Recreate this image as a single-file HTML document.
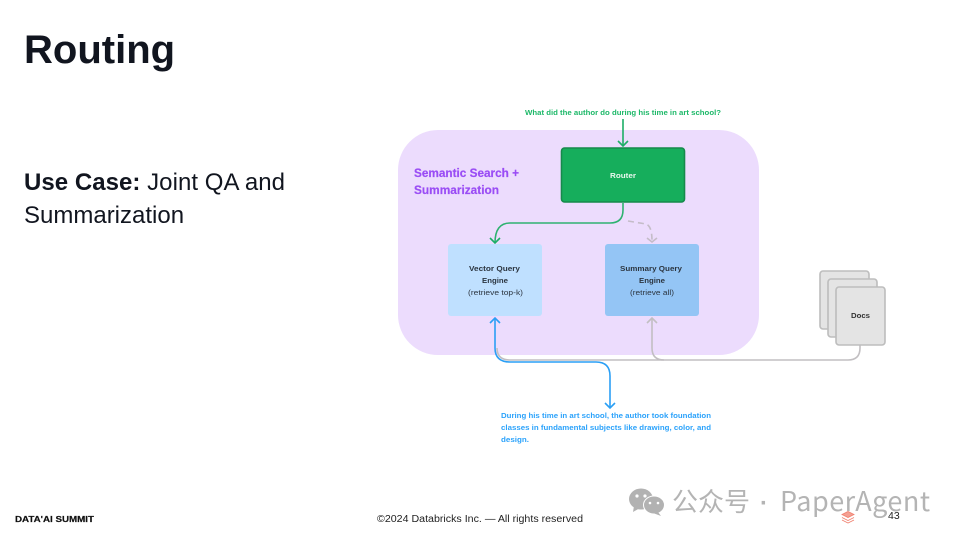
<!DOCTYPE html>
<html>
<head>
<meta charset="utf-8">
<style>
html,body{margin:0;padding:0;background:#fff}
body{width:960px;height:540px;overflow:hidden;position:relative}
svg{position:absolute;left:0;top:0}
text{font-family:"Liberation Sans","Noto Sans CJK SC",sans-serif}
</style>
</head>
<body>
<svg width="960" height="540" viewBox="0 0 960 540" xmlns="http://www.w3.org/2000/svg">
<defs><filter id="b" filterUnits="userSpaceOnUse" x="380" y="90" width="530" height="370"><feGaussianBlur stdDeviation="0.35"/></filter></defs>
<rect width="960" height="540" fill="#fff"/>
<text x="24" y="63" font-size="40" font-weight="700" fill="#11151f">Routing</text>
<text x="24" y="190" font-size="24" fill="#11151f" textLength="261" lengthAdjust="spacing"><tspan font-weight="700">Use Case:</tspan> Joint QA and</text>
<text x="24" y="223" font-size="24" fill="#11151f">Summarization</text>

<g filter="url(#b)">
<rect x="398" y="130" width="361" height="225" rx="40" fill="#ecdcfd"/>
<g font-size="11.5" font-weight="700" fill="#9a4df5" stroke="#9a4df5" stroke-width="0.2">
<text x="414" y="177" textLength="105" lengthAdjust="spacingAndGlyphs">Semantic Search +</text>
<text x="414" y="194" textLength="85" lengthAdjust="spacingAndGlyphs">Summarization</text>
</g>

<text x="525" y="115" font-size="7.6" font-weight="700" fill="#1cb868" textLength="196" lengthAdjust="spacingAndGlyphs">What did the author do during his time in art school?</text>

<path d="M623 119V146" fill="none" stroke="#1fae66" stroke-width="1.6"/>
<path d="M618 141L623 146L628 141" fill="none" stroke="#1fae66" stroke-width="1.6"/>
<rect x="561.5" y="148" width="123" height="54" rx="3" fill="#16ae5c" stroke="#128a4b" stroke-width="1.6"/>
<text x="610" y="178" font-size="7.6" font-weight="700" fill="#e9f8ef" textLength="26" lengthAdjust="spacingAndGlyphs">Router</text>

<path d="M623 203V210Q623 223 610 223H510Q495 223 495 243" fill="none" stroke="#2fb271" stroke-width="1.6"/>
<path d="M490 238L495 243L500 238" fill="none" stroke="#1fae66" stroke-width="1.6"/>
<path d="M628 221Q640 223 646 224Q652 226 652 241" fill="none" stroke="#c4bcc8" stroke-width="1.6" stroke-dasharray="6 4"/>
<path d="M647 238L652 242L657 238" fill="none" stroke="#c4bcc8" stroke-width="1.6"/>

<rect x="448" y="244" width="94" height="72" rx="3" fill="#bfe0ff"/>
<rect x="605" y="244" width="94" height="72" rx="3" fill="#94c5f5"/>
<g font-size="7.6" fill="#2c3540">
<text x="469" y="271" font-weight="700" textLength="51" lengthAdjust="spacingAndGlyphs">Vector Query</text>
<text x="482" y="283" font-weight="700" textLength="26" lengthAdjust="spacingAndGlyphs">Engine</text>
<text x="468" y="295" textLength="55" lengthAdjust="spacingAndGlyphs">(retrieve top-k)</text>
<text x="620" y="271" font-weight="700" textLength="62" lengthAdjust="spacingAndGlyphs">Summary Query</text>
<text x="639" y="283" font-weight="700" textLength="26" lengthAdjust="spacingAndGlyphs">Engine</text>
<text x="630" y="295" textLength="44" lengthAdjust="spacingAndGlyphs">(retrieve all)</text>
</g>

<path d="M860 345V348Q860 360 848 360H510Q497 360 497 348" fill="none" stroke="#c2bfc2" stroke-width="1.6"/>
<path d="M652 318V348Q652 360 664 360" fill="none" stroke="#c2bfc2" stroke-width="1.6"/>
<path d="M647 323L652 318L657 323" fill="none" stroke="#c2bfc2" stroke-width="1.6"/>

<path d="M495 318V348Q495 362 510 362H596Q610 362 610 376V408" fill="none" stroke="#2c9ff5" stroke-width="1.6"/>
<path d="M490 323L495 318L500 323" fill="none" stroke="#2c9ff5" stroke-width="1.6"/>
<path d="M605 403L610 408L615 403" fill="none" stroke="#2c9ff5" stroke-width="1.6"/>

<g fill="#e4e4e4" stroke="#bdbdbd" stroke-width="1.6">
<rect x="820" y="271" width="49" height="58" rx="3"/>
<rect x="828" y="279" width="49" height="58" rx="3"/>
<rect x="836" y="287" width="49" height="58" rx="3"/>
</g>
<text x="851" y="318" font-size="7.6" font-weight="700" fill="#333" textLength="19" lengthAdjust="spacingAndGlyphs">Docs</text>

<g font-size="7.6" font-weight="700" fill="#2ba2fb">
<text x="501" y="418" textLength="210" lengthAdjust="spacingAndGlyphs">During his time in art school, the author took foundation</text>
<text x="501" y="430" textLength="210" lengthAdjust="spacingAndGlyphs">classes in fundamental subjects like drawing, color, and</text>
<text x="501" y="442" textLength="28" lengthAdjust="spacingAndGlyphs">design.</text>
</g>
</g>

<text x="15" y="522" font-size="8.2" font-weight="700" fill="#111" stroke="#111" stroke-width="0.2" textLength="79" lengthAdjust="spacingAndGlyphs">DATA'AI SUMMIT</text>
<text x="377" y="522" font-size="10" fill="#222" textLength="206" lengthAdjust="spacingAndGlyphs">©2024 Databricks Inc. — All rights reserved</text>

<g fill="#b2b2b2">
<ellipse cx="641" cy="499" rx="12" ry="10.5"/>
<path d="M634 506L633 512L640 508Z"/>
</g>
<g fill="#b2b2b2" stroke="#fff" stroke-width="1">
<ellipse cx="654" cy="505" rx="10.5" ry="9"/>
</g>
<path d="M658 512L661 516L653 513Z" fill="#b2b2b2"/>
<g fill="#fff">
<circle cx="637" cy="496" r="1.6"/><circle cx="645" cy="496" r="1.6"/>
<circle cx="650" cy="503" r="1.3"/><circle cx="658" cy="503" r="1.3"/>
</g>
<text x="672" y="511" font-size="26" fill="#b4b4b4" style="font-family:'Noto Sans CJK SC',sans-serif">公众号</text>
<text x="760" y="511" font-size="24" fill="#b4b4b4" font-weight="700">·</text>
<text x="780" y="511" font-size="27" fill="#b4b4b4" textLength="150" lengthAdjust="spacing" style="font-family:'Noto Sans CJK SC',sans-serif">PaperAgent</text>

<g fill="#f4a093" stroke="#f0806f" stroke-width="0.8">
<path d="M842 514.5L848 511.5L854 514.5L848 517.5Z"/>
<path d="M842 517.5L848 520.5L854 517.5" fill="none"/>
<path d="M842 520L848 523L854 520" fill="none"/>
</g>
<text x="888" y="519" font-size="10.5" fill="#222">43</text>
</svg>
</body>
</html>
